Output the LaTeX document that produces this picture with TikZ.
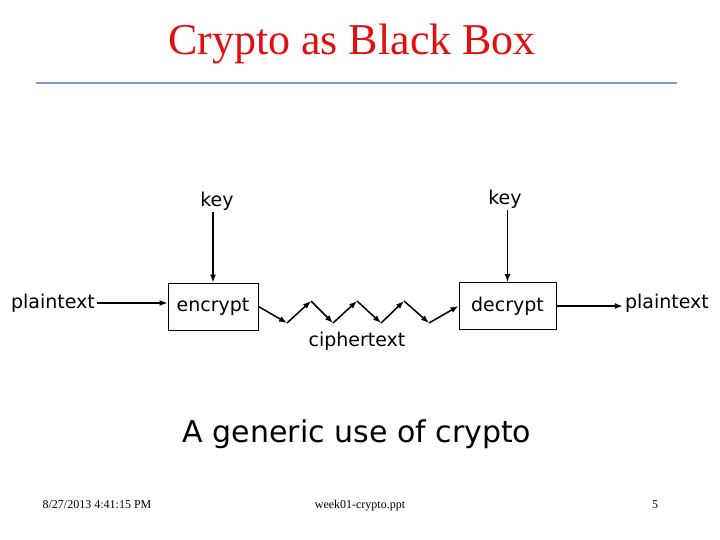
\documentclass[tikz,border=0pt]{standalone}
\usepackage{fontspec}
\setmainfont{Liberation Serif}
\newfontfamily\handfont{DejaVu Sans}
\usetikzlibrary{arrows.meta, positioning, calc}
\definecolor{titlered}{RGB}{224,16,16}
\definecolor{rulebl}{RGB}{122,156,192}

\begin{document}
\begin{tikzpicture}[
    x=1pt, y=-1pt,
    cbox/.style  = {rectangle, draw=black, line width=0.9pt,
                    minimum width=90pt, minimum height=47pt,
                    font=\handfont\fontsize{19}{22}\selectfont},
    txt/.style   = {font=\handfont\fontsize{19}{22}\selectfont, inner sep=2pt},
    foot/.style  = {font=\fontsize{12}{14}\selectfont, anchor=base},
    link/.style  = {-{Latex[length=8pt, width=6pt]}, line width=1.5pt},
]
\useasboundingbox (0,0) rectangle (720,540);

% Title and rule
\node[font=\fontsize{44}{48}\selectfont, text=titlered, anchor=base] (title) at (352,55) {Crypto as Black Box};
\coordinate (rulel) at (36,83);
\coordinate (ruler) at (677,83);
\draw[rulebl, line width=2.2pt] (rulel) -- (ruler);

% Encrypt / decrypt boxes
\node[cbox] (enc) at (213,306.5) {encrypt};
\node[cbox, minimum width=97pt] (dec) at (507.5,306) {decrypt};

% Keys
\node[txt] (keyl) at (217,201) {key};
\node[txt] (keyr) at (505,199) {key};
\draw[link] (enc.north |- keyl.south) -- (enc.north);
\draw[link] (dec.north |- keyr.south) -- (dec.north);

% Plaintext in and out
\node[txt] (ptl) at (53,303) {plaintext};
\node[txt] (ptr) at (667,303) {plaintext};
\draw[link] (ptl.east) -- (ptl.east -| enc.west);
\draw[link] (dec.east) -- (dec.east -| ptr.west);

% Ciphertext zigzag
\coordinate (z0) at (enc.east);
\foreach \x/\y [count=\i] in {287/323, 311/301, 333/323, 357/301,
                              381/323, 404/301, 429/323}
  \coordinate (z\i) at (\x,\y);
\coordinate (z8) at (dec.west);
\foreach \i [remember=\i as \last (initially 0)] in {1,...,8}
  \draw[link] (z\last) -- (z\i);
\node[txt] (cipher) at (357,341) {ciphertext};

% Caption
\node[font=\handfont\fontsize{30}{34}\selectfont] (caption) at (357,434) {A generic use of crypto};

% Footer
\node[foot] (date) at (97,508) {8/27/2013 4:41:15 PM};
\node[foot] (file) at (360,508) {week01-crypto.ppt};
\node[foot] (page) at (655,508) {5};

\end{tikzpicture}
\end{document}
